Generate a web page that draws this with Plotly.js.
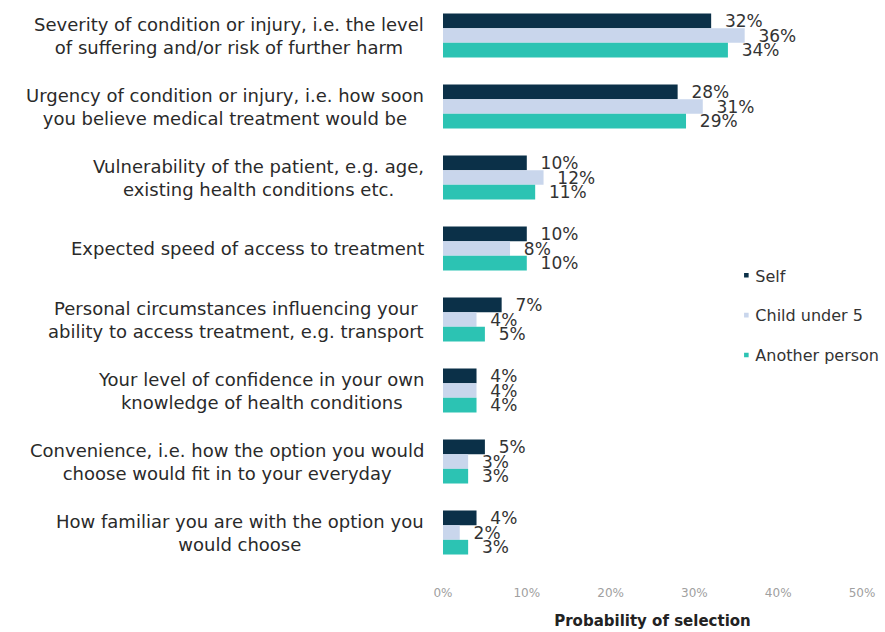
<!DOCTYPE html>
<html>
<head>
<meta charset="utf-8">
<script src="https://cdn.plot.ly/plotly-3.0.1.min.js"></script>
<style>html,body{margin:0;padding:0;background:#fff;}#chart{width:885px;height:632px;}</style>
</head>
<body>
<div id="chart"></div>
<script>
const categories = [
  "Severity of condition or injury, i.e. the level<br>of suffering and/or risk of further harm",
  "Urgency of condition or injury, i.e. how soon<br>you believe medical treatment would be",
  "Vulnerability of the patient, e.g. age,<br>existing health conditions etc.",
  "Expected speed of access to treatment",
  "Personal circumstances influencing your<br>ability to access treatment, e.g. transport",
  "Your level of confidence in your own<br>knowledge of health conditions",
  "Convenience, i.e. how the option you would<br>choose would fit in to your everyday",
  "How familiar you are with the option you<br>would choose"
];
const selfValues = [32, 28, 10, 10, 7, 4, 5, 4];
const childValues = [36, 31, 12, 8, 4, 4, 3, 2];
const anotherValues = [34, 29, 11, 10, 5, 4, 3, 3];
const seriesNames = ["Self", "Child under 5", "Another person"];
const tickVals = [0, 10, 20, 30, 40, 50];
const tickText = ["0%", "10%", "20%", "30%", "40%", "50%"];

const FONT = "DejaVu Sans, Arial, sans-serif";
const colors = ["#0b3048", "#c9d6ec", "#2cc3b3"];
const all = [selfValues, childValues, anotherValues];
const traces = all.map((vals, i) => ({
  type: "bar",
  orientation: "h",
  name: seriesNames[i],
  legendgroup: "g" + i,
  y: categories,
  x: vals,
  marker: {color: colors[i]},
  text: vals.map(v => "\u00a0\u00a0" + v + "%"),
  textposition: "outside",
  constraintext: "none",
  cliponaxis: false,
  textfont: {family: FONT, size: 17, color: "#333"},
  hoverinfo: "skip"
}));

const annotations = categories.map(c => ({
  xref: "paper", yref: "y",
  x: -0.04, y: c,
  xanchor: "right", yanchor: "middle",
  align: "center",
  text: c,
  showarrow: false,
  font: {family: FONT, size: 18, color: "#2a2a2a"}
}));

const layout = {
  width: 885, height: 632,
  margin: {l: 443, r: 23, t: 0, b: 64},
  paper_bgcolor: "#fff", plot_bgcolor: "#fff",
  barmode: "group",
  bargap: 0.38,
  bargroupgap: 0,
  font: {family: FONT, color: "#333"},
  xaxis: {
    range: [0, 50],
    tickvals: tickVals, ticktext: tickText,
    showgrid: false, zeroline: false, showline: false,
    tickfont: {size: 12, color: "#a0a0a0"},
    ticks: "", ticklen: 0,
    ticklabelstandoff: 16,
    title: {text: "<b>Probability of selection</b>", font: {family: FONT, size: 15, color: "#222"}, standoff: 16}
  },
  yaxis: {
    autorange: "reversed",
    showgrid: false, zeroline: false, showline: false,
    ticks: "", showticklabels: false
  },
  annotations: annotations,
  showlegend: true,
  legend: {
    x: 0.65, y: 0.545, xanchor: "left", yanchor: "top",
    bgcolor: "rgba(0,0,0,0)",
    font: {family: FONT, size: 16, color: "#333"},
    itemwidth: 30,
    tracegroupgap: 16
  }
};

Plotly.newPlot("chart", traces, layout, {displayModeBar: false, staticPlot: true}).then(gd => {
  gd.querySelectorAll(".legend .legendpoints path").forEach(p => {
    p.setAttribute("transform", "translate(31,0) scale(0.38)");
  });
});
</script>
</body>
</html>
